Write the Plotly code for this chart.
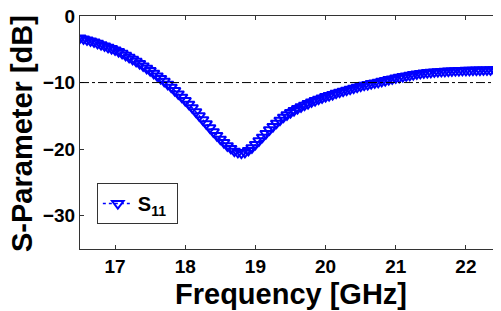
import plotly.graph_objects as go

freq_ghz = [round(16.5 + 0.05 * i, 2) for i in range(121)]
s11_db = [-3.3, -3.45, -3.6, -3.75, -3.9, -4.1, -4.3, -4.5, -4.7, -4.9,
          -5.1, -5.35, -5.6, -5.9, -6.2, -6.5, -6.8, -7.15, -7.5, -7.85,
          -8.2, -8.6, -9.0, -9.4, -9.8, -10.25, -10.7, -11.2, -11.7, -12.2,
          -12.7, -13.25, -13.8, -14.4, -15.0, -15.6, -16.2, -16.8, -17.4, -17.95,
          -18.5, -19.0, -19.5, -19.9, -20.3, -20.5, -20.6, -20.5, -20.2, -19.8,
          -19.3, -18.75, -18.2, -17.65, -17.1, -16.6, -16.1, -15.65, -15.2, -14.85,
          -14.5, -14.2, -13.9, -13.65, -13.4, -13.15, -12.9, -12.7, -12.5, -12.3,
          -12.1, -11.95, -11.8, -11.6, -11.45, -11.3, -11.15, -11.0, -10.85, -10.7,
          -10.55, -10.4, -10.3, -10.15, -10.05, -9.95, -9.8, -9.7, -9.55, -9.45,
          -9.3, -9.2, -9.1, -9.0, -8.9, -8.8, -8.7, -8.62, -8.55, -8.5,
          -8.45, -8.4, -8.36, -8.32, -8.3, -8.28, -8.25, -8.22, -8.2, -8.18,
          -8.16, -8.15, -8.14, -8.13, -8.12, -8.1, -8.1, -8.08, -8.06, -8.05, -8.05]
ref_level_db = -10
x_ticks = [17, 18, 19, 20, 21, 22]
y_ticks = [0, -10, -20, -30]

fig = go.Figure()
fig.add_trace(go.Scatter(
    x=freq_ghz, y=s11_db, mode="lines+markers", name="<b>S<sub>11</sub></b> ",
    showlegend=True,
    line=dict(color="#0000ff", width=1.5, dash="dot"),
    marker=dict(symbol="triangle-down-open", size=10, color="#0000ff",
                line=dict(color="#0000ff", width=2)),
))
fig.add_hline(y=ref_level_db, line=dict(color="black", width=1, dash="dashdot"))

axis_common = dict(
    showline=True, linecolor="#333333", linewidth=1.3, mirror="ticks",
    ticks="inside", ticklen=4, tickcolor="#333333", showgrid=False, zeroline=False,
    automargin=False, ticklabeloverflow="allow",
    tickfont=dict(family="Liberation Sans", size=19, color="black", weight="bold"),
)
fig.update_xaxes(range=[16.5, 22.5], tickvals=x_ticks, **axis_common)
fig.update_yaxes(range=[-35, 0], tickvals=y_ticks, **axis_common)

# page has an 8px body offset; plot area spans x 80..501, y 16..249 on screen
plot_w, plot_h = 421, 233
fig.add_annotation(text="<b>S-Parameter [dB]</b>", textangle=-90,
                   xref="paper", yref="paper", x=(22 - 80) / plot_w, y=(249 - 134) / plot_h,
                   xanchor="center", yanchor="middle", showarrow=False,
                   font=dict(family="Liberation Sans", size=29, color="black"))
fig.add_annotation(text="<b>Frequency [GHz]</b>",
                   xref="paper", yref="paper", x=0.5, y=(249 - 294) / plot_h,
                   xanchor="center", yanchor="middle", showarrow=False,
                   font=dict(family="Liberation Sans", size=29, color="black"))
fig.update_layout(
    width=493, height=303, margin=dict(l=72, r=0, t=8, b=62),
    plot_bgcolor="white", paper_bgcolor="white",
    legend=dict(x=0.04, y=0.283, xanchor="left", yanchor="top",
                bordercolor="#333333", borderwidth=1, bgcolor="white",
                font=dict(family="Liberation Sans", size=20, color="black")),
)
fig.write_html("out.html")
